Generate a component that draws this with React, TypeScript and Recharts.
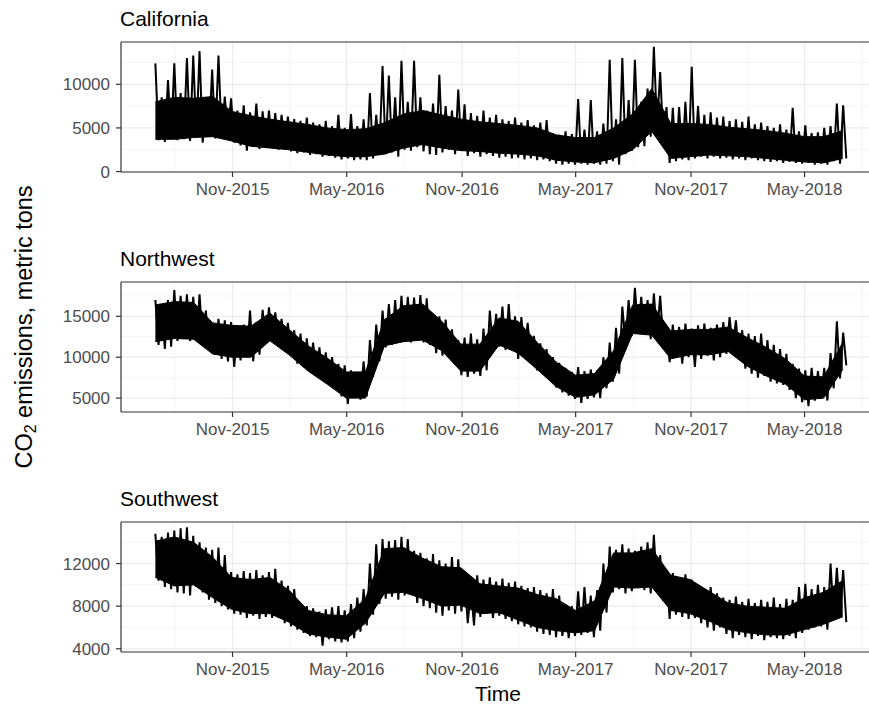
import React from "react";
import { ComposedChart, Area, Line, XAxis, YAxis, CartesianGrid, ReferenceLine } from "recharts";

// x: days since 2015-07-01
const STEP_DAYS = 10.06; // spacing of the high/low extremes
const CORE_STEP_DAYS = 30.44; // spacing of the dense core band
const X_TICK_DAYS = [123, 305, 489, 670, 854, 1035];
const X_TICK_LABELS = ["Nov-2015", "May-2016", "Nov-2016", "May-2017", "Nov-2017", "May-2018"];
const X_MINOR_DAYS = [31, 214, 397, 579.5, 762, 944.5, 1127];
const X_DOMAIN = [-54.8, 1150.8];

const REGIONS = ["California", "Northwest", "Southwest"];

// ---- California ----
const CA_HIGH = [
  12400, 8500, 10500, 12400, 9000, 13000, 13300, 13800, 8500, 11700,
  13300, 8600, 8400, 7000, 7600, 6800, 7800, 6900, 7000, 6700,
  6500, 6300, 6000, 5800, 6200, 5600, 5400, 5800, 5200, 6500,
  5000, 6600, 5200, 6000, 9000, 6500, 12100, 11000, 8500, 12700,
  8000, 12700, 8500, 7000, 7800, 11100, 7500, 7000, 9400, 7700,
  6700, 6400, 7000, 6200, 6500, 6000, 5800, 6200, 5600, 5900,
  5300, 5600, 5900, 4400, 4200, 4600, 4300, 8300, 4800, 8200,
  4600, 5500, 12800, 6000, 13000, 8200, 12800, 8000, 9500, 14300,
  11400, 7400, 7300, 7400, 8000, 12000, 7500, 6500, 6800, 6200,
  6300, 5800, 6000, 5700, 6300, 5400, 5600, 5200, 5000, 5400,
  4800, 7300, 4600, 5300, 4400, 4500, 5000, 5200, 7800, 7600,
];
const CA_LOW = [
  3600, 3400, 3800, 3600, 3700, 3500, 3900, 3300, 4000, 3800,
  4200, 4500, 3300, 3000, 2400, 2900, 2600, 2700, 2800, 2500,
  2600, 2300, 2100, 2200, 1900, 2000, 1700, 1800, 1600, 1400,
  1500, 1300, 1400, 1300, 1500, 2000, 2000, 2200, 1700, 2500,
  2400, 2800, 2300, 2000, 1900, 2200, 2500, 2000, 2400, 1800,
  2100, 1700, 2000, 1800, 1600, 1700, 1500, 1600, 1400, 1500,
  1300, 1400, 1200, 900, 800, 900, 800, 900, 800, 900,
  800, 900, 1200, 800, 2000, 2400, 2800, 2900, 4000, 5200,
  3500, 1000, 1200, 1400, 1300, 1500, 1700, 1500, 1700, 1500,
  1600, 1400, 1500, 1300, 1500, 1300, 1200, 1100, 1200, 1000,
  1100, 1000, 900, 1000, 800, 900, 800, 1200, 900, 1500,
];
const CA_CORE_TOP = [
  8000, 8500, 8400, 8600, 6900, 6400, 6000, 5700, 5400, 5000,
  4800, 4900, 5600, 6600, 7000, 6500, 6000, 5700, 5500, 5300,
  5000, 4200, 3900, 3900, 5000, 6600, 9500, 5500, 5500, 5400,
  5100, 4900, 4700, 4400, 4000, 4000, 4700,
];
const CA_CORE_BOT = [
  3700, 3700, 3900, 4000, 3500, 2900, 2700, 2500, 2200, 1900,
  1700, 1700, 2000, 2700, 3100, 2700, 2400, 2300, 2100, 2000,
  1800, 1300, 1100, 1000, 1500, 2500, 4600, 1500, 1700, 1900,
  1800, 1700, 1500, 1300, 1100, 1000, 1500,
];

// ---- Northwest ----
const NW_HIGH = [
  17000, 16500, 17000, 18200, 17500, 17700, 17400, 17700, 15700, 14200,
  14700, 14500, 14300, 13700, 14000, 15700, 14300, 15800, 16100, 15500,
  14700, 14200, 13300, 12900, 12300, 11800, 11200, 10600, 10000, 9200,
  9000, 8400, 8000, 9500, 12100, 14000, 15700, 16500, 17000, 17500,
  17400, 17300, 17600, 17200, 15200, 15000, 14600, 13400, 12100, 12400,
  12900, 12200, 13500, 15700, 15300, 16200, 16500, 15000, 14900, 14200,
  12600, 11700, 11000, 10000, 9300, 8700, 8200, 8800, 8300, 8500,
  8400, 10000, 11800, 13600, 16200, 17000, 18500, 17400, 17000, 17800,
  17500, 13700, 14000, 13700, 14100, 13500, 13900, 14100, 13600, 14000,
  14300, 14900, 14500, 13300, 12900, 12600, 12900, 12100, 11500, 11000,
  10400, 9200, 8600, 8400, 8700, 8300, 8700, 10500, 14400, 13000,
];
const NW_LOW = [
  11500, 11000, 11300, 12000, 12200, 12000, 12100, 11800, 10900, 10300,
  9800, 9500, 8800, 9600, 10000, 9500, 10300, 11800, 12000, 12000,
  11000, 10300, 9200, 8800, 8400, 8000, 7200, 6800, 6300, 5200,
  4300, 5000, 4800, 5200, 7600, 9500, 11200, 11500, 12000, 12000,
  11800, 12200, 11800, 11500, 10500, 10200, 10000, 9200, 7800, 7600,
  8000, 7700, 8400, 11000, 11300, 10900, 11000, 9800, 10400, 10200,
  8400, 7900, 7200, 6300, 5700, 5300, 4900, 4400, 4900, 5100,
  5000, 6200, 7000, 8000, 11800, 12600, 13000, 12800, 12200, 12600,
  11800, 9400, 10400, 9200, 10000, 8800, 9800, 10200, 9600, 10000,
  10400, 11200, 10000, 8600, 8000, 7500, 7700, 7000, 6800, 6600,
  6000, 5000, 4500, 4000, 4700, 4900, 4700, 6200, 7400, 9000,
];
const NW_CORE_TOP = [
  16400, 16800, 16700, 14200, 13900, 13800, 15400, 13400, 11400, 9900,
  8200, 8200, 14600, 16300, 16500, 14400, 11600, 11600, 14800, 14400,
  11800, 9400, 7800, 8000, 10800, 16400, 16500, 13200, 13400, 13400,
  13700, 12400, 11200, 9800, 7700, 7600, 11800,
];
const NW_CORE_BOT = [
  11900, 12300, 12200, 10400, 10000, 10000, 12000, 10300, 8300, 6700,
  5000, 5000, 11400, 11900, 12100, 10800, 8300, 8300, 11500, 10500,
  8500, 6400, 5100, 5400, 7300, 12900, 12700, 9800, 10300, 10300,
  10700, 8900, 7700, 6700, 4800, 5000, 8500,
];

// ---- Southwest ----
const SW_HIGH = [
  14800, 14500, 14900, 15100, 15300, 15400, 14600, 14000, 13500, 13300,
  13500, 12800, 11200, 11000, 11300, 11100, 11400, 10900, 11200, 11500,
  10400, 9900, 9600, 8300, 8000, 7800, 7500, 7700, 7900, 8000,
  7600, 8200, 8800, 9600, 12000, 13800, 14300, 14100, 14200, 14500,
  14300, 13200, 13000, 12500, 12900, 12300, 12000, 12600, 12400, 10700,
  9600, 10900, 10500, 10700, 10300, 10600, 10200, 10300, 9900, 9700,
  9800, 9500, 9200, 9600, 9000, 8200, 8000, 9400, 9800, 9000,
  9500, 12000, 13600, 13300, 13800, 13400, 13200, 13600, 14000, 14700,
  12800, 11200, 11100, 10700, 11000, 10500, 10000, 9600, 9800, 9200,
  8800, 8600, 8900, 8400, 8700, 8300, 8600, 8400, 8800, 8200,
  8700, 8600, 9800, 10100, 9600, 10000, 9800, 12000, 11600, 11400,
];
const SW_LOW = [
  10400, 9800, 9600, 9300, 9200, 9000, 9800, 9300, 8600, 8300,
  8000, 7700, 7300, 7200, 6900, 7100, 6800, 7000, 6900, 6900,
  6400, 6100, 5800, 5500, 5200, 5100, 4300, 4900, 4700, 4600,
  4700, 5000, 5600, 6200, 7200, 8200, 8700, 8900, 8600, 9000,
  9200, 8300, 8000, 7800, 7400, 7100, 7600, 7300, 7500, 6400,
  6200, 7000, 7300, 6900, 7100, 6800, 6600, 6300, 6100, 6000,
  5600, 5400, 5300, 5100, 5200, 5000, 5200, 5300, 5500, 5100,
  5700, 7400, 9300, 9600, 9200, 9400, 9700, 9500, 9200, 9500,
  8500, 6800, 7200, 7000, 6800, 6900, 6400, 6000, 5700, 6000,
  5400, 5000, 5300, 5100, 4900, 5200, 4800, 5100, 5000, 4900,
  5200, 5000, 5500, 5800, 6000, 6100, 5800, 7000, 7200, 6500,
];
const SW_CORE_TOP = [
  14100, 14500, 14000, 12600, 10700, 10500, 10700, 9500, 7600, 7200,
  7100, 8700, 13400, 13500, 12500, 11700, 11600, 10100, 9900, 9700,
  9100, 8700, 7600, 8500, 13000, 13000, 13400, 10900, 10500, 9400,
  8300, 8000, 7900, 7800, 8800, 9300, 10400,
];
const SW_CORE_BOT = [
  10700, 9900, 10000, 8800, 7700, 7300, 7300, 6500, 5400, 5100,
  4900, 6400, 9200, 9300, 8700, 8000, 8100, 7300, 7400, 6700,
  6000, 5700, 5500, 5700, 9800, 9700, 9800, 7600, 7300, 6600,
  5800, 5500, 5300, 5300, 5800, 6300, 7000,
];

const CA_Y_TICKS = [0, 5000, 10000];
const CA_Y_MINOR = [2500, 7500, 12500];
const CA_Y_DOMAIN = [-50, 14850];
const NW_Y_TICKS = [5000, 10000, 15000];
const NW_Y_MINOR = [7500, 12500, 17500];
const NW_Y_DOMAIN = [3300, 19200];
const SW_Y_TICKS = [4000, 8000, 12000];
const SW_Y_MINOR = [6000, 10000, 14000];
const SW_Y_DOMAIN = [3700, 15900];

const FONT = "'Liberation Sans', Arial, Helvetica, sans-serif";
const CHART_W = 890;
const PLOT_LEFT = 121;
const PLOT_RIGHT = 877.2;
const PANEL_H = 130;

function fmtX(v: number) {
  const idx = X_TICK_DAYS.indexOf(v);
  return idx >= 0 ? X_TICK_LABELS[idx] : "";
}

type PanelProps = {
  high: number[];
  low: number[];
  coreTop: number[];
  coreBot: number[];
  yTicks: number[];
  yMinor: number[];
  yDomain: number[];
  top: number;
};

function Panel({ high, low, coreTop, coreBot, yTicks, yMinor, yDomain, top }: PanelProps) {
  // hourly swings: alternate between the high and low extremes
  const swings: { day: number; v: number }[] = [];
  high.forEach((h, i) => {
    swings.push({ day: i * STEP_DAYS, v: h });
    swings.push({ day: i * STEP_DAYS + STEP_DAYS / 2, v: low[i] });
  });
  const core = coreTop.map((t, j) => ({ day: j * CORE_STEP_DAYS, range: [coreBot[j], t] }));
  const tickStyle = { fill: "#4D4D4D", fontSize: 17, fontFamily: FONT };
  return (
    <div style={{ position: "absolute", left: 0, top: top - 10 }}>
      <ComposedChart
        width={CHART_W}
        height={10 + PANEL_H + 40}
        margin={{ top: 10, right: CHART_W - PLOT_RIGHT, bottom: 0, left: 0 }}
      >
        <CartesianGrid
          horizontalValues={yMinor}
          verticalValues={X_MINOR_DAYS}
          stroke="#F2F2F2"
          strokeWidth={0.8}
        />
        <CartesianGrid
          horizontalValues={yTicks}
          verticalValues={X_TICK_DAYS}
          stroke="#EBEBEB"
          strokeWidth={1.2}
        />
        <XAxis
          type="number"
          dataKey="day"
          domain={X_DOMAIN}
          allowDataOverflow
          ticks={X_TICK_DAYS}
          interval={0}
          tickFormatter={fmtX}
          height={40}
          tickSize={5}
          tickMargin={6}
          axisLine={{ stroke: "#333333", strokeWidth: 1.2 }}
          tickLine={{ stroke: "#333333", strokeWidth: 1.2 }}
          tick={tickStyle}
        />
        <YAxis
          type="number"
          domain={yDomain}
          allowDataOverflow
          ticks={yTicks}
          interval={0}
          width={PLOT_LEFT}
          tickSize={5}
          tickMargin={6}
          axisLine={{ stroke: "#333333", strokeWidth: 1.2 }}
          tickLine={{ stroke: "#333333", strokeWidth: 1.2 }}
          tick={tickStyle}
        />
        <Area
          data={core}
          type="linear"
          dataKey="range"
          stroke="#000000"
          strokeWidth={1}
          fill="#000000"
          fillOpacity={1}
          dot={false}
          activeDot={false}
          isAnimationActive={false}
        />
        <Line
          data={swings}
          type="linear"
          dataKey="v"
          stroke="#000000"
          strokeWidth={2}
          dot={false}
          activeDot={false}
          isAnimationActive={false}
        />
        <ReferenceLine y={yDomain[1]} stroke="#333333" strokeWidth={1.2} />
        <ReferenceLine x={X_DOMAIN[1]} stroke="#333333" strokeWidth={1.2} />
      </ComposedChart>
    </div>
  );
}

export default function App() {
  return (
    <div
      style={{
        position: "absolute",
        left: 0,
        top: 0,
        width: 869,
        height: 704,
        overflow: "hidden",
        background: "#ffffff",
        fontFamily: FONT,
      }}
    >
      <Panel high={CA_HIGH} low={CA_LOW} coreTop={CA_CORE_TOP} coreBot={CA_CORE_BOT}
        yTicks={CA_Y_TICKS} yMinor={CA_Y_MINOR} yDomain={CA_Y_DOMAIN} top={42} />
      <Panel high={NW_HIGH} low={NW_LOW} coreTop={NW_CORE_TOP} coreBot={NW_CORE_BOT}
        yTicks={NW_Y_TICKS} yMinor={NW_Y_MINOR} yDomain={NW_Y_DOMAIN} top={281.7} />
      <Panel high={SW_HIGH} low={SW_LOW} coreTop={SW_CORE_TOP} coreBot={SW_CORE_BOT}
        yTicks={SW_Y_TICKS} yMinor={SW_Y_MINOR} yDomain={SW_Y_DOMAIN} top={521.7} />
      <svg
        width={869}
        height={704}
        style={{ position: "absolute", left: 0, top: 0, pointerEvents: "none" }}
        fontFamily={FONT}
      >
        <text x={120} y={26} fontSize={21} fill="#000">{REGIONS[0]}</text>
        <text x={120} y={265.7} fontSize={21} fill="#000">{REGIONS[1]}</text>
        <text x={120} y={505.7} fontSize={21} fill="#000">{REGIONS[2]}</text>
        <text transform="translate(32,327) rotate(-90)" textAnchor="middle" fontSize={23.5} fill="#000">
          CO<tspan fontSize={16} dy={4}>2</tspan>
          <tspan dy={-4}> emissions, metric tons</tspan>
        </text>
        <text x={498} y={701} textAnchor="middle" fontSize={21} fill="#000">Time</text>
      </svg>
    </div>
  );
}
